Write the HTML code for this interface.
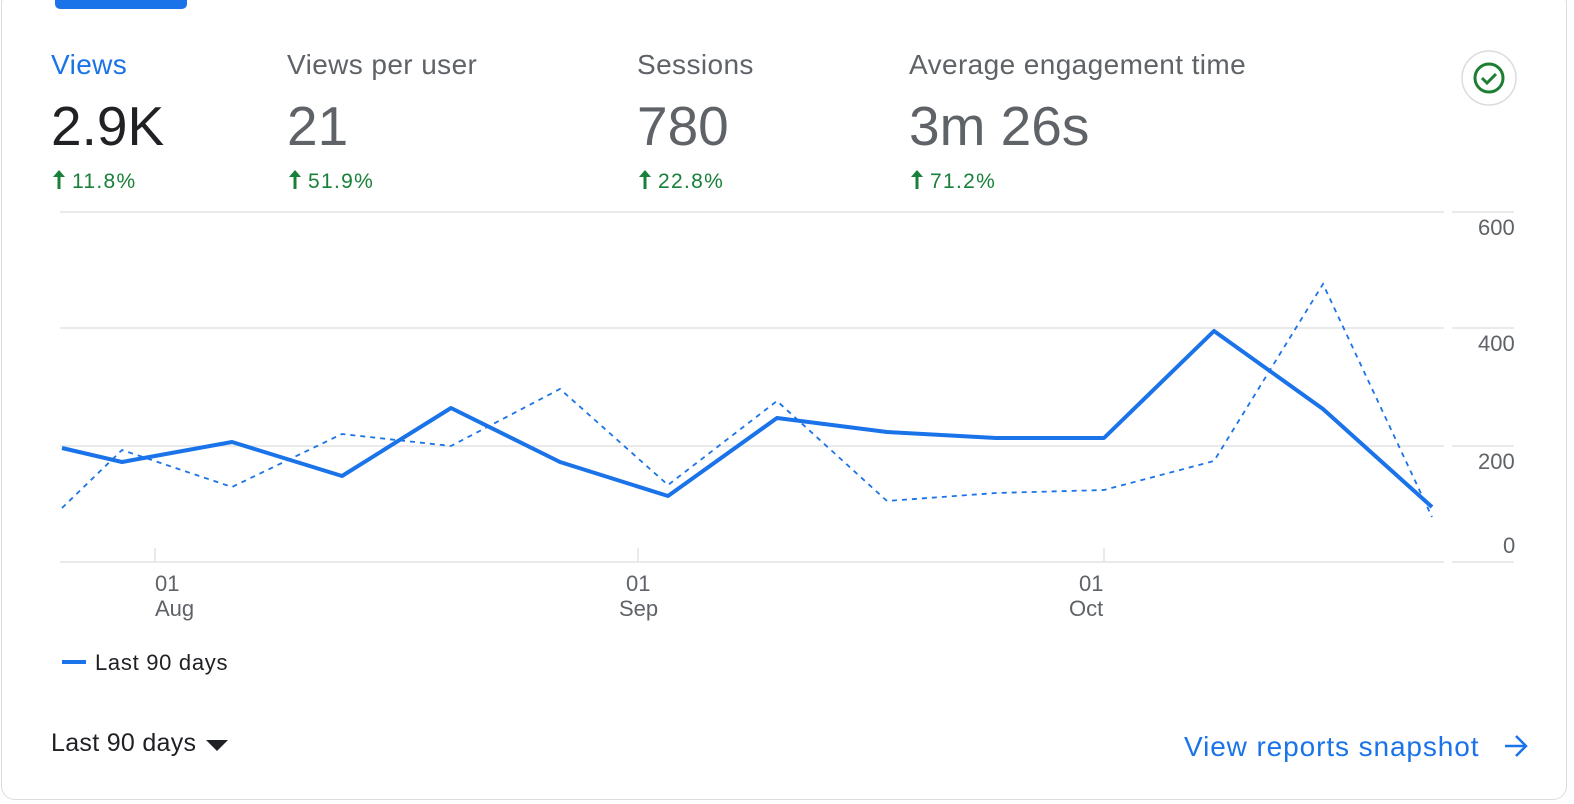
<!DOCTYPE html><html><head><style>
body{margin:0;width:1574px;height:804px;background:#fff;font-family:"Liberation Sans",Arial,sans-serif;position:relative;overflow:hidden}
.card{position:absolute;left:1px;top:-10px;width:1566px;height:810px;border:1.5px solid #dadce0;border-radius:14px;box-sizing:border-box}
.t{position:absolute;white-space:nowrap}
.lab{font-size:28px;letter-spacing:0.4px;color:#5f6368;top:49px}
.val{font-size:55px;color:#5f6368;top:94px}
.pct{font-size:21px;color:#188038;top:170px;letter-spacing:1.3px}
.ax{font-size:22px;color:#5f6368}
</style></head><body>
<div class="card"></div>
<div style="position:absolute;left:55px;top:0;width:132px;height:9px;background:#1a73e8;border-radius:0 0 5px 5px"></div>
<div class="t lab" style="left:51px;color:#1a73e8">Views</div>
<div class="t val" style="left:51px;color:#202124">2.9K</div>
<div class="t pct" style="left:72px">11.8%</div>
<div class="t lab" style="left:287px">Views per user</div>
<div class="t val" style="left:287px">21</div>
<div class="t pct" style="left:308px">51.9%</div>
<div class="t lab" style="left:637px">Sessions</div>
<div class="t val" style="left:637px">780</div>
<div class="t pct" style="left:658px">22.8%</div>
<div class="t lab" style="left:909px">Average engagement time</div>
<div class="t val" style="left:909px">3m 26s</div>
<div class="t pct" style="left:930px">71.2%</div>
<svg width="1574" height="804" style="position:absolute;left:0;top:0">
<g fill="#188038"><path d="M59 170 l-6 7 h4.5 v12 h3 v-12 h4.5z"/><path d="M295 170 l-6 7 h4.5 v12 h3 v-12 h4.5z"/><path d="M645 170 l-6 7 h4.5 v12 h3 v-12 h4.5z"/><path d="M917 170 l-6 7 h4.5 v12 h3 v-12 h4.5z"/></g>
<circle cx="1489" cy="78" r="27" fill="#fff" stroke="#dadce0" stroke-width="1.5"/>
<circle cx="1489" cy="78" r="14" fill="none" stroke="#1e7e34" stroke-width="3"/>
<path d="M1482 78 l5 5 l9 -9" fill="none" stroke="#1e7e34" stroke-width="3"/>
<g stroke="#e3e3e3" stroke-width="1.5">
<line x1="60" y1="212" x2="1444" y2="212"/><line x1="1452" y1="212" x2="1514" y2="212"/>
<line x1="60" y1="328" x2="1444" y2="328"/><line x1="1452" y1="328" x2="1514" y2="328"/>
<line x1="60" y1="446" x2="1444" y2="446"/><line x1="1452" y1="446" x2="1514" y2="446"/>
<line x1="60" y1="562" x2="1444" y2="562"/><line x1="1452" y1="562" x2="1514" y2="562"/>
<line x1="155" y1="548" x2="155" y2="562"/><line x1="638" y1="548" x2="638" y2="562"/><line x1="1104" y1="548" x2="1104" y2="562"/>
</g>
<polyline fill="none" stroke="#1a73e8" stroke-width="1.8" stroke-dasharray="5,5" points="62,508 122,450 232,487 342,434 451,446 560,389 668,485 777,401 887,501 996,493 1104,490 1214,461 1323,284 1432,517"/>
<polyline fill="none" stroke="#1a73e8" stroke-width="4" stroke-linejoin="round" points="62,448 122,462 232,442 342,476 451,408 560,462 668,496 777,418 887,432 996,438 1104,438 1214,331 1323,409 1432,507"/>
<line x1="62" y1="662" x2="86" y2="662" stroke="#1a73e8" stroke-width="4"/>
<path d="M206 740 h22 l-11 11z" fill="#202124"/>
<path d="M1505 746 h20 M1516 736 l10 10 l-10 10" fill="none" stroke="#1a73e8" stroke-width="2.5"/>
</svg>
<div class="t ax" style="left:1478px;top:215px">600</div>
<div class="t ax" style="left:1478px;top:331px">400</div>
<div class="t ax" style="left:1478px;top:449px">200</div>
<div class="t ax" style="left:1503px;top:533px">0</div>
<div class="t ax" style="left:155px;top:571px">01</div><div class="t ax" style="left:155px;top:596px">Aug</div>
<div class="t ax" style="left:626px;top:571px">01</div><div class="t ax" style="left:619px;top:596px">Sep</div>
<div class="t ax" style="left:1079px;top:571px">01</div><div class="t ax" style="left:1069px;top:596px">Oct</div>
<div class="t" style="left:95px;top:650px;font-size:22px;letter-spacing:0.7px;color:#202124">Last 90 days</div>
<div class="t" style="left:51px;top:729px;font-size:25px;letter-spacing:0.3px;color:#202124">Last 90 days</div>
<div class="t" style="left:1184px;top:731px;font-size:28px;letter-spacing:0.9px;color:#1a73e8">View reports snapshot</div>
</body></html>
